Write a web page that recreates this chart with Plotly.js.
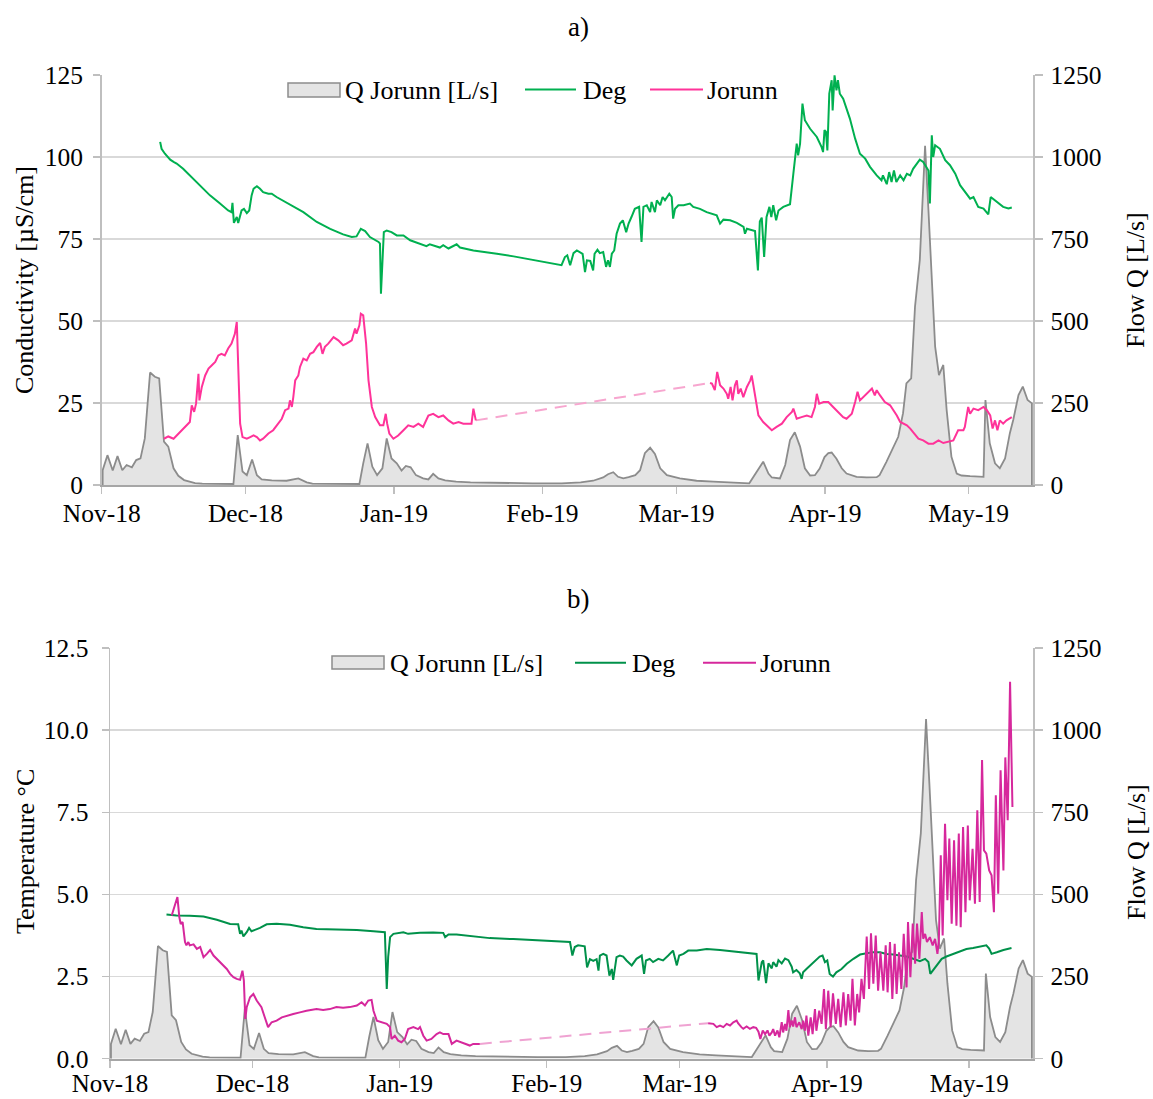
<!DOCTYPE html>
<html>
<head>
<meta charset="utf-8">
<script src="https://cdn.plot.ly/plotly-3.0.1.min.js"></script>
<style>
  html, body { margin: 0; padding: 0; background: #fff; }
  #chart { width: 1153px; height: 1099px; }
</style>
</head>
<body>
<div id="chart"></div>
<script>
// Series are stored as [day offset from 1 Nov 2018, value] pairs.
const START = Date.UTC(2018, 10, 1);
const LAST_DAY = 194.43;

// Flow Q at Jorunn [L/s]
const qJorunn = [[0.2,45],[1.2,91],[2.3,44],[3.3,88],[4.3,45],[5.2,61],[6.3,54],[7.2,76],[8.1,81],[9.0,142],
  [10.1,343],[11.1,330],[12.0,325],[13.0,132],[13.9,117],[15.0,51],[16.0,28],[17.2,15],[18.5,9],[19.5,6],
  [21,4],[24,3],[27.5,3],[28.4,152],[29.4,41],[30.3,30],[31.4,78],[32.4,30],[33.4,17],[35.5,14],
  [38.6,13],[41.05,20],[42.8,8],[44,4],[47,3],[53.8,3],[54.6,66],[55.5,127],[56.5,56],[57.5,30],
  [58.6,51],[59.5,142],[60.5,81],[61.6,66],[62.6,44],[63.5,58],[64.5,54],[65.6,30],[67.1,20],[68.2,17],
  [69.2,34],[70.3,20],[71.7,14],[74,10],[77,8],[80,7],[84,7],[90,5],[96,5],[100,8],
  [102.6,13],[104.7,23],[105.7,33],[106.8,39],[107.8,25],[108.9,20],[110,24],[111.4,30],[112.4,45],[113.4,97],
  [114.5,114],[115.5,95],[116.6,51],[118,30],[120.7,20],[124.2,13],[127.7,10],[131.2,7],[135.2,5],[138.1,71],
  [139.2,35],[139.9,23],[141.6,20],[142.7,61],[143.7,137],[144.7,161],[145.8,117],[146.8,51],[147.9,29],[148.9,30],
  [149.9,50],[150.9,85],[151.7,97],[152.4,99],[153.4,80],[154.5,51],[155.5,35],[157.6,25],[159.7,23],[161.8,24],
  [162.4,30],[163.8,70],[165.3,117],[166.3,147],[167.3,219],[168,310],[169,325],[169.8,544],[170.8,686],[171.4,869],
  [171.9,1034],[172.6,838],[173.3,635],[174,422],[174.8,335],[175.7,366],[176.4,229],[177.4,86],[178.5,35],[179.5,29],
  [181.3,27],[183.3,25],[184.1,25],[184.5,259],[185.4,127],[186.5,66],[187.5,51],[188.6,81],[189.6,158],[190.3,198],
  [191.4,274],[192.3,300],[193.3,259],[194.2,249]];

// Conductivity [µS/cm]
const condDeg = [[12.2,104.6],[12.5,102.5],[13.2,101],[14.3,99.2],[15,98.5],[15.65,98],[17,96.4],[18.4,94.4],[20.5,91.4],[22.6,88.3],
  [24.7,85.8],[26.4,83.7],[27.1,83.2],[27.3,86],[27.6,79.9],[28.2,81.7],[28.5,79.9],[29.2,83.7],[29.7,84.2],[30.3,82.9],
  [30.8,83.7],[31.3,88.3],[31.7,90.3],[32.4,91.1],[33.05,90.3],[33.7,89.3],[34.8,88.8],[35.5,88.8],[36.5,87.8],[39.3,85.6],
  [42.1,83.2],[44.9,80.2],[47.7,78.1],[50.4,76.4],[52.2,75.6],[53.2,75.8],[54.1,78.1],[55,77.4],[56,75.6],[57.8,74.1],
  [58.1,73.6],[58.3,58.3],[58.7,68.5],[58.9,77.1],[59.5,77.6],[60.5,77.1],[61.6,76.1],[63,76.1],[64.4,74.6],[66.5,73.4],
  [67.8,72.8],[68.5,73.4],[70.6,72.4],[71.3,73.1],[72.4,72.1],[74.1,73.4],[74.8,72.4],[77.6,71.5],[80.4,71],[82.5,70.5],
  [86,69.7],[89.4,68.8],[92.9,67.8],[96,67],[96.7,69.5],[97.2,70],[97.8,67],[98.5,70.7],[99.2,71.5],[99.9,71],
  [100.4,70.5],[100.9,64.9],[101.3,68.5],[102,68.3],[102.6,65.4],[102.9,70.5],[103.5,71.7],[104,70.7],[104.7,71],[105.3,66.5],
  [105.7,68.5],[106.1,66.5],[106.5,70.5],[107,71.5],[107.5,76.6],[108.2,79.7],[108.8,80.7],[109.5,77.1],[110,79.7],[110.6,81.7],
  [111.3,84.2],[112.2,84.8],[112.7,74.1],[113.1,84.8],[113.8,85.3],[114.5,83.2],[114.8,86.3],[115.5,83.2],[115.9,86.8],[116.6,85.3],
  [117.1,87.8],[117.6,86.8],[118.5,88.8],[119,87.8],[119.3,81.2],[119.7,84.2],[120.4,85.3],[121.5,85.3],[122.8,85.8],[123.5,84.8],
  [124.9,84.2],[126.3,83.2],[128.4,82.2],[129.1,79.7],[129.8,80.9],[131.2,80.7],[132.6,79.9],[134,78.7],[134.3,76.6],[134.7,78.1],
  [136.4,77.4],[137,65.4],[137.4,80.3],[137.8,81.5],[138.3,69.5],[138.8,81.7],[139.4,84.8],[139.8,81.7],[140.2,85.3],[140.8,80.7],
  [141.3,83.7],[142.3,84.8],[143.7,85.6],[144.4,94.9],[145.1,104.1],[145.4,100.5],[145.8,104.1],[146.3,116.3],[146.8,111.2],[147.9,108.6],
  [149.3,106.1],[150.3,103],[150.6,101.5],[150.9,108.2],[151.2,107.7],[151.5,102],[151.9,119.3],[152.4,123.4],[152.6,114.2],[153,124.9],
  [153.4,120.3],[153.7,123.4],[154.1,119.3],[154.8,117.8],[156.2,111.7],[157.3,105.6],[158.3,101],[159.4,99.5],[160.4,97],[161.8,94.4],
  [162.8,92.9],[163.1,94.4],[163.9,91.7],[164.4,95.4],[164.9,92.4],[165.4,95.9],[165.9,92.4],[166.7,94.4],[167.4,92.9],[168.1,94.9],
  [168.8,94.4],[169.4,96.4],[170.1,98],[170.8,99.2],[171.5,98.5],[172.1,97],[172.6,95.9],[172.9,85.8],[173.3,106.6],[173.6,100],
  [174,103.6],[175,102.5],[176.1,99],[177.1,97.5],[178.2,94.9],[179.2,91.4],[180.2,89.3],[181.3,87.3],[182,87.8],[183,84.8],
  [184.1,84.3],[185.1,82.5],[185.6,87.8],[186.8,86.3],[188.2,84.8],[189.3,84.3],[190,84.6]];

const condJorunn = [[13,14.1],[13.9,14.8],[15,14.1],[15.65,15.1],[16.7,16.7],[17.7,18.2],[18.4,19.2],[18.8,24.3],[19.3,22.3],[19.7,24.8],
  [20.2,33.9],[20.4,25.8],[20.9,29.9],[21.6,33.4],[22.3,35.5],[23,36.5],[23.7,37.5],[24.35,39.5],[25,40],[25.7,39.5],
  [26.4,41.6],[27.1,43.1],[27.8,46.1],[28.2,49.7],[28.5,38],[28.9,18.7],[29.4,14.6],[30.3,14.1],[31,14.6],[31.7,15.1],
  [32.4,14.6],[33.05,13.6],[33.7,14.1],[34.8,15.7],[35.8,16.7],[36.9,18.7],[37.6,20.2],[38.3,22.8],[39,23.3],[39.3,25.8],
  [39.7,23.8],[40,26.8],[40.4,31.9],[41.05,33.4],[41.4,36],[42.1,38.5],[42.8,38],[43.5,40],[44.2,40.5],[44.9,42.1],
  [45.6,43.3],[46.1,40],[46.6,42.1],[47.3,43.1],[48.4,45.1],[49.4,44.1],[50.4,42.6],[51.1,43.1],[52.2,44.1],[52.9,47.7],
  [53.2,46.1],[53.8,48.7],[54.1,52.2],[54.6,51.7],[55.2,43.1],[55.7,31.9],[56.4,23.8],[57.1,20.7],[58.1,18.2],[58.8,18.2],
  [59.3,21.7],[59.6,18.7],[60.05,15.7],[60.9,14.1],[61.9,15.1],[63,16.7],[64,18.2],[65.1,17.7],[66.1,18.7],[67.1,17.7],
  [68.2,21.2],[69.2,21.7],[70.3,20.7],[71.3,21.2],[72.4,19.7],[73.4,18.7],[74.5,19.2],[75.5,18.7],[76.5,18.7],[77.2,18.7],
  [77.6,23.3],[78.1,19.7],
  [100,null],
  [127,31.1],[127.4,30.9],[128,28.9],[128.5,34.5],[129.1,30.4],[129.8,29.4],[130.5,27.8],[130.8,26.3],[131.3,29.9],[131.7,25.8],
  [132.2,30.4],[132.6,31.9],[132.9,27.8],[133.4,29.4],[133.95,26.8],[134.7,29.9],[135.4,31.9],[135.7,33.4],[136.05,30.4],[136.6,25.8],
  [137.1,21.2],[138.1,19.2],[139.2,17.7],[139.9,16.7],[140.9,17.7],[142,18.7],[143,20.7],[144.1,22.3],[144.4,23.3],[145.1,20.2],
  [146.1,20.7],[147.2,21.2],[148.2,20.7],[148.9,23.8],[149.3,27.8],[149.8,24.8],[150.7,25.3],[151.7,25.3],[152.7,23.8],[153.8,22.3],
  [154.8,20.7],[155.5,20.2],[156.6,21.7],[157.3,25.3],[157.8,28.4],[158.3,25.8],[159.4,27.3],[160.4,28.9],[160.8,29.4],[161.4,27.3],
  [161.8,28.9],[162.5,27.3],[163.5,25.3],[164.6,24.3],[165.3,22.8],[166,21.2],[166.7,19.2],[167.4,18.7],[168.1,18.2],[168.8,17.2],
  [169.4,16.2],[170.5,14.1],[171.5,13.6],[172.6,12.6],[173.6,12.6],[174.7,13.6],[175.7,12.8],[176.8,13.1],[177.8,13.6],[178.8,16.7],
  [179.9,16.7],[180.2,17.7],[180.9,23.8],[181.3,21.7],[182,23.3],[183,22.8],[184.1,23.8],[184.8,22.8],[185.5,21.2],[186,17.2],
  [186.5,19.7],[187,16.7],[187.5,19.7],[188.2,18.7],[188.9,19.7],[190,20.7]];

// Temperature [°C]
const tempDeg = [[11.9,4.39],[14,4.36],[16.8,4.35],[19.7,4.33],[22.5,4.23],[25.3,4.1],[27,4.09],[27.4,3.8],[27.7,3.9],[28.1,3.72],
  [28.8,3.85],[29.3,3.98],[29.8,3.88],[30.5,3.92],[31.6,3.98],[33,4.09],[35.1,4.11],[37.9,4.08],[40.7,4.0],[43.5,3.95],
  [47.7,3.94],[52,3.92],[55.5,3.88],[57.9,3.85],[58.1,2.99],[58.3,2.12],[58.6,3.1],[59,3.7],[59.7,3.8],[61.8,3.85],
  [62.8,3.8],[65.3,3.83],[68.1,3.84],[70.2,3.83],[70.6,3.7],[71.3,3.78],[73,3.78],[76.5,3.72],[80,3.67],[84.95,3.64],
  [88.5,3.61],[92,3.6],[96.9,3.55],[97.4,3.14],[97.9,3.4],[98.6,3.45],[100,3.42],[100.5,2.78],[101.1,3.03],[101.8,2.98],
  [102.5,3.03],[102.9,2.68],[103.2,3.14],[103.9,3.19],[104.6,3.14],[105.2,2.53],[105.7,2.73],[106,2.4],[106.4,2.73],[106.7,3.09],
  [107.4,3.14],[108.1,3.11],[108.8,2.99],[109.9,2.84],[110.9,3.04],[112,3.14],[112.5,2.58],[112.9,2.99],[113.7,3.04],[114.4,2.94],
  [115.5,3.04],[116.5,2.99],[117.6,3.14],[118.6,3.29],[119.4,2.84],[119.9,3.14],[120.8,3.19],[121.8,3.29],[123.6,3.29],[125.7,3.34],
  [128.5,3.31],[129.9,3.29],[132,3.27],[134.1,3.24],[136.2,3.19],[136.6,2.38],[137.3,2.94],[137.6,2.99],[138.2,2.3],[138.7,2.9],
  [139.4,2.75],[139.7,2.94],[140.4,2.8],[140.8,3.0],[141.5,2.9],[142.2,3.05],[142.9,3.0],[143.6,2.8],[143.9,2.63],[144.6,2.7],
  [145.3,2.6],[145.7,2.43],[146,2.63],[146.7,2.73],[147.8,2.89],[148.8,3.04],[149.5,3.11],[150.1,3.14],[150.6,2.94],[151.1,2.99],
  [151.6,2.58],[152.3,2.5],[153,2.63],[154.1,2.73],[155.2,2.89],[156.6,3.04],[158,3.17],[159.4,3.21],[160.8,3.24],[162.2,3.24],
  [163.6,3.19],[165,3.17],[166.4,3.14],[167.8,3.11],[169.2,3.04],[170.6,2.97],[171.7,3.04],[172.4,2.94],[172.8,2.58],[173.3,2.68],
  [174.1,2.84],[175.2,3.04],[176.2,3.11],[177.6,3.19],[179,3.27],[180.4,3.34],[181.8,3.37],[183.2,3.41],[184.6,3.45],[185.2,3.35],
  [185.7,3.19],[186.8,3.24],[188.2,3.31],[189.9,3.37]];

const tempJorunn = [[13,4.36],[13.7,4.72],[14.2,4.92],[14.4,4.62],[14.6,4.31],[14.9,4.1],[15.3,4.16],[15.8,3.55],[16.1,3.45],[16.5,3.55],
  [16.8,3.45],[17.6,3.48],[18.3,3.34],[19,3.4],[19.7,3.09],[20.4,3.19],[21.1,3.31],[21.8,3.14],[22.5,3.04],[23.5,2.89],
  [24.6,2.73],[25.3,2.58],[26,2.48],[26.7,2.43],[27.4,2.4],[27.9,2.68],[28.2,2.38],[28.5,1.21],[28.8,1.57],[29.5,1.87],
  [30.2,1.97],[30.9,1.77],[31.9,1.57],[32.6,1.26],[33.3,0.96],[34.05,1.11],[35.1,1.16],[36.2,1.26],[37.2,1.31],[38.6,1.36],
  [40,1.41],[41.4,1.46],[43.5,1.51],[44.9,1.48],[46.3,1.51],[47.7,1.57],[49.1,1.55],[50.5,1.57],[52,1.62],[53,1.72],
  [53.7,1.62],[54.4,1.77],[55.1,1.79],[55.5,1.46],[56.2,1.16],[57.2,1.11],[58.3,1.06],[59,0.96],[59.3,0.6],[60,0.7],
  [60.7,0.55],[61.4,0.5],[62.1,0.6],[62.8,0.9],[63.9,0.96],[64.9,0.9],[65.3,0.96],[66,0.7],[66.7,0.55],[67.7,0.6],
  [68.8,0.75],[69.5,0.8],[70.2,0.75],[71.3,0.75],[72,0.45],[73,0.55],[74.1,0.5],[74.8,0.45],[75.8,0.4],[76.5,0.45],
  [77.9,0.45],
  [100,null],
  [126,1.08],[127.1,1.06],[127.8,0.96],[128.5,1.01],[129.2,0.96],[129.9,1.06],[130.6,1.01],[131.3,1.11],[132,1.16],[132.3,1.08],
  [133,0.96],[133.4,0.91],[134.1,0.98],[134.8,0.91],[135.5,0.96],[136.1,0.94],[136.6,0.82],[137,0.6],[137.5,0.86],[138,0.75],
  [138.5,0.86],[138.9,0.7],[139.4,0.8],[139.7,0.9],[140.1,0.7],[140.6,0.86],[141,0.65],[141.5,1.11],[141.8,0.8],[142.2,1.06],
  [142.5,0.85],[142.9,1.48],[143.2,0.96],[143.6,1.16],[143.9,0.98],[144.3,1.26],[144.6,0.96],[145.2,1.11],[145.7,0.9],[146,1.16],
  [146.4,0.85],[146.7,1.31],[147.1,0.7],[147.6,1.26],[148,0.75],[148.5,1.51],[148.8,0.85],[149.4,1.46],[149.9,1.06],[150.4,2.12],
  [150.8,0.9],[151.3,2.07],[151.8,0.96],[152.3,1.99],[152.9,1.06],[153.4,1.82],[153.9,0.96],[154.5,2.02],[155,1.01],[155.5,1.97],
  [156,1.16],[156.4,2.43],[156.9,1.01],[157.4,1.97],[157.8,1.41],[158.3,2.43],[158.8,1.82],[159.4,3.72],[159.9,2.12],[160.3,3.82],
  [160.8,2.28],[161.3,3.75],[161.8,2.07],[162.3,3.24],[162.9,2.07],[163.4,3.45],[163.8,2.02],[164.3,3.55],[164.8,1.82],[165.3,3.5],
  [165.7,1.97],[166.2,3.24],[166.7,2.12],[167.2,3.8],[167.8,2.17],[168.1,4.16],[168.6,2.48],[169.1,4.11],[169.6,2.89],[170,4.11],
  [170.5,3.04],[171,4.46],[171.3,3.65],[171.7,3.8],[172.1,3.55],[172.7,3.7],[173.3,3.45],[173.8,3.65],[174.3,3.19],[174.6,3.6],
  [175,6.19],[175.4,3.75],[175.9,7.15],[176.4,4.82],[176.8,6.7],[177.3,4.11],[177.8,6.65],[178.3,4.05],[178.8,6.85],[179.2,4.0],
  [179.7,7.05],[180.2,4.46],[180.7,7.1],[181.1,4.82],[181.7,6.39],[182.2,4.72],[182.7,7.56],[183.2,4.77],[183.7,9.09],[184.1,6.34],
  [184.6,6.24],[185.2,5.73],[185.7,5.58],[186.2,4.46],[186.6,8.02],[187.1,5.02],[187.6,8.78],[188.2,5.73],[188.6,9.17],[189.1,7.26],
  [189.6,11.47],[190.1,7.66]];

// ---- helpers -------------------------------------------------------------
const W = 1153, H = 1099;
const px = v => v / W;          // pixel column -> paper x
const py = v => 1 - v / H;      // pixel row -> paper y

function toDate(d) {
  return new Date(START + d * 86400000).toISOString().slice(0, 19).replace('T', ' ');
}
function xy(pairs) {
  return { x: pairs.map(p => toDate(p[0])), y: pairs.map(p => p[1]) };
}
// area outline closed down to zero at both ends
function areaXY(pairs) {
  const first = pairs[0][0], last = pairs[pairs.length - 1][0];
  return xy([[first, 0]].concat(pairs, [[last, 0]]));
}
// dashed bridge across the logger gap
function bridgeXY(pairs) {
  const i = pairs.findIndex(p => p[1] === null);
  return xy([pairs[i - 1], pairs[i + 1]]);
}

const SERIF = 'Liberation Serif, Times New Roman, serif';
const TICKFONT = { family: SERIF, size: 25.5, color: '#000' };
const GRID = '#D9D9D9';
const AXIS = '#BFBFBF';

const C = {
  qLine: '#8C8C8C', qFill: '#E4E4E4',
  degA: '#00B050', jorA: '#FF3399', bridgeA: '#F7A6CF',
  degB: '#00914A', jorB: '#D6289C', bridgeB: '#EFA3D2'
};

function lineTrace(pairs, color, xa, ya) {
  return Object.assign({ type: 'scatter', mode: 'lines', xaxis: xa, yaxis: ya,
    line: { color: color, width: 2 }, connectgaps: false, showlegend: false, hoverinfo: 'skip' }, xy(pairs));
}
function areaTrace(pairs, xa, ya) {
  return Object.assign({ type: 'scatter', mode: 'lines', xaxis: xa, yaxis: ya, fill: 'tozeroy',
    fillcolor: C.qFill, line: { color: C.qLine, width: 1.8 }, showlegend: false, hoverinfo: 'skip' }, areaXY(pairs));
}
function bridgeTrace(pairs, color, xa, ya) {
  return Object.assign({ type: 'scatter', mode: 'lines', xaxis: xa, yaxis: ya,
    line: { color: color, width: 2, dash: '12px,8px' }, showlegend: false, hoverinfo: 'skip' }, bridgeXY(pairs));
}

const traces = [
  // a) conductivity
  areaTrace(qJorunn, 'x', 'y'),
  lineTrace(condDeg, C.degA, 'x', 'y2'),
  bridgeTrace(condJorunn, C.bridgeA, 'x', 'y2'),
  lineTrace(condJorunn, C.jorA, 'x', 'y2'),
  // b) temperature
  areaTrace(qJorunn, 'x2', 'y3'),
  lineTrace(tempDeg, C.degB, 'x2', 'y4'),
  bridgeTrace(tempJorunn, C.bridgeB, 'x2', 'y4'),
  lineTrace(tempJorunn, C.jorB, 'x2', 'y4')
];

function xAxis(domain, anchor, fontSize, standoff) {
  return { domain: domain, anchor: anchor, type: 'date',
    range: [toDate(0), toDate(LAST_DAY)], tick0: '2018-11-01', dtick: 'M1', tickformat: '%b-%y',
    ticks: 'outside', ticklen: 7, tickwidth: 1.5, tickcolor: AXIS,
    showline: true, linecolor: '#A6A6A6', linewidth: 2, showgrid: false, zeroline: false,
    tickfont: { family: SERIF, size: fontSize, color: '#000' }, ticklabelstandoff: standoff };
}
function flowAxis(domain, anchor) {
  return { domain: domain, anchor: anchor, side: 'right', range: [0, 1250], tick0: 0, dtick: 250,
    showgrid: true, gridcolor: GRID, gridwidth: 1.5, zeroline: false,
    showline: true, linecolor: AXIS, linewidth: 1.5,
    ticks: 'outside', ticklen: 8, tickwidth: 1.5, tickcolor: AXIS,
    tickfont: TICKFONT, ticklabelstandoff: 3 };
}
function leftAxis(over, anchor, max, step, fmt, standoff) {
  return { overlaying: over, anchor: anchor, side: 'left', range: [0, max], tick0: 0, dtick: step,
    tickformat: fmt, showgrid: false, zeroline: false,
    showline: true, linecolor: AXIS, linewidth: 1.5,
    ticks: 'outside', ticklen: 7, tickwidth: 1.5, tickcolor: AXIS,
    tickfont: TICKFONT, ticklabelstandoff: standoff };
}

const topY = [py(485), py(75)];
const botY = [py(1058.7), py(648)];

function txt(text, x, y, opts) {
  return Object.assign({ text: text, x: px(x), y: py(y), xref: 'paper', yref: 'paper', showarrow: false,
    font: { family: SERIF, size: 26, color: '#000' }, xanchor: 'left', yanchor: 'middle' }, opts || {});
}
function swatchLine(x0, x1, y, color) {
  return { type: 'line', xref: 'paper', yref: 'paper', x0: px(x0), x1: px(x1), y0: py(y), y1: py(y),
    line: { color: color, width: 2 } };
}
function swatchBox(x0, x1, y0, y1) {
  return { type: 'rect', xref: 'paper', yref: 'paper', x0: px(x0), x1: px(x1), y0: py(y1), y1: py(y0),
    fillcolor: C.qFill, line: { color: C.qLine, width: 1.5 } };
}

const layout = {
  width: W, height: H,
  margin: { l: 0, r: 0, t: 0, b: 0 },
  paper_bgcolor: '#fff', plot_bgcolor: 'rgba(0,0,0,0)',
  font: { family: SERIF, color: '#000' },
  showlegend: false,
  xaxis: xAxis([px(101.7), px(1033)], 'y', 25.5, -3),
  yaxis: flowAxis(topY, 'x'),
  yaxis2: leftAxis('y', 'x', 125, 25, '', 5),
  xaxis2: xAxis([px(110), px(1033)], 'y3', 25, -6),
  yaxis3: flowAxis(botY, 'x2'),
  yaxis4: leftAxis('y3', 'x2', 12.5, 2.5, '.1f', 8),
  shapes: [
    swatchBox(288, 340, 83, 97), swatchLine(525, 576, 89.5, C.degA), swatchLine(650, 703, 89.5, C.jorA),
    swatchBox(332, 384, 656, 669), swatchLine(575, 626, 662.7, C.degB), swatchLine(703, 756, 662.7, C.jorB)
  ],
  annotations: [
    txt('a)', 578, 27, { xanchor: 'center', font: { family: SERIF, size: 27, color: '#000' } }),
    txt('b)', 578, 599, { xanchor: 'center', font: { family: SERIF, size: 27, color: '#000' } }),
    txt('Conductivity [µS/cm]', 25, 280, { xanchor: 'center', textangle: -90 }),
    txt('Flow Q [L/s]', 1136, 280, { xanchor: 'center', textangle: -90 }),
    txt('Temperature °C', 25, 852, { xanchor: 'center', textangle: -90 }),
    txt('Flow Q [L/s]', 1136, 852, { xanchor: 'center', textangle: -90 }),
    txt('Q Jorunn [L/s]', 343, 90), txt('Deg', 581, 90), txt('Jorunn', 705, 90),
    txt('Q Jorunn [L/s]', 388, 663), txt('Deg', 630, 663), txt('Jorunn', 758, 663)
  ]
};

Plotly.newPlot('chart', traces, layout, { staticPlot: true, displayModeBar: false });
</script>
</body>
</html>
